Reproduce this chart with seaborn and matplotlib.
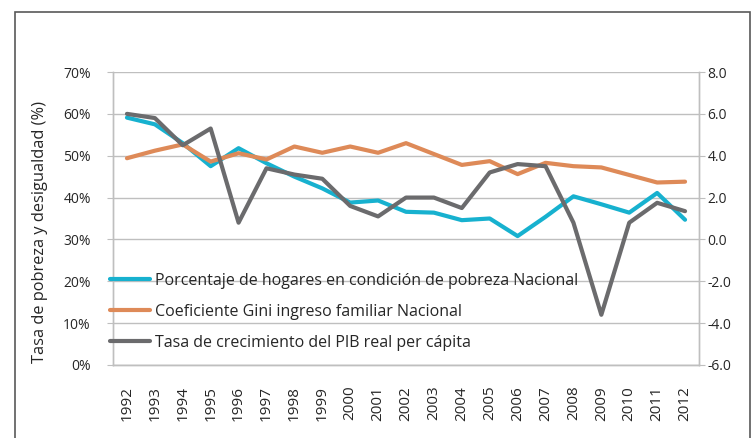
import matplotlib
matplotlib.use("Agg")
import matplotlib.pyplot as plt
import seaborn as sns
import pandas as pd
from matplotlib.patches import Rectangle
from matplotlib.ticker import FuncFormatter, MultipleLocator, FixedLocator

#Data
years = list(range(1992, 2013))
pobreza = [59.1, 57.5, 53.0, 47.5, 51.8, 48.2, 45.0, 42.2, 38.8, 39.3, 36.6,
           36.4, 34.6, 35.0, 30.8, 35.4, 40.3, 38.4, 36.4, 41.1, 34.7]
gini = [49.4, 51.2, 52.7, 48.6, 50.6, 49.1, 52.2, 50.7, 52.2, 50.7, 53.0,
        50.4, 47.8, 48.7, 45.6, 48.3, 47.5, 47.2, 45.4, 43.6, 43.8]
pib = [6.0, 5.8, 4.5, 5.3, 0.8, 3.4, 3.1, 2.9, 1.6, 1.1, 2.0,
       2.0, 1.5, 3.2, 3.6, 3.5, 0.8, -3.6, 0.8, 1.75, 1.35]

labels = [
    "Porcentaje de hogares en condición de pobreza Nacional",
    "Coeficiente Gini ingreso familiar Nacional",
    "Tasa de crecimiento del PIB real per cápita",
]
colors = ["#17B1CF", "#DE8A58", "#6B6B6D"]

sns.set_style("white")
plt.rcParams["font.family"] = ["Open Sans", "DejaVu Sans"]
text_color = "#262626"
grid_color = "#BFBFBF"

df = pd.DataFrame({"pos": range(len(years)), "pobreza": pobreza, "gini": gini, "pib": pib})

fig = plt.figure(figsize=(7.55, 4.38), dpi=100)
ax = fig.add_axes([113 / 755, 1 - 365 / 438, (699 - 113) / 755, (365 - 72) / 438])
ax2 = ax.twinx()

sns.lineplot(data=df, x="pos", y="pobreza", ax=ax, color=colors[0], lw=3, label=labels[0], legend=False)
sns.lineplot(data=df, x="pos", y="gini", ax=ax, color=colors[1], lw=3, label=labels[1], legend=False)
sns.lineplot(data=df, x="pos", y="pib", ax=ax2, color=colors[2], lw=3, label=labels[2], legend=False)

#Left axis (percent)
ax.set_ylim(0, 70)
ax.yaxis.set_major_locator(MultipleLocator(10))
ax.yaxis.set_major_formatter(FuncFormatter(lambda v, p: f"{v:.0f}%"))
ax.set_ylabel("Tasa de pobreza y desigualdad (%)", fontsize=11.8, color=text_color)
ax.yaxis.set_label_coords((48 - 113) / (699 - 113), (365 - 232) / 293)
ax.grid(axis="y", color=grid_color, lw=1)
ax.set_axisbelow(True)

#Right axis
ax2.set_ylim(-6, 8)
ax2.yaxis.set_major_locator(MultipleLocator(2))
ax2.yaxis.set_major_formatter(FuncFormatter(lambda v, p: f"{v:.1f}"))
ax2.set_ylabel("")

#Category x axis: labels at centers, ticks at boundaries
ax.set_xlim(-0.5, len(years) - 0.5)
ax.set_xticks(range(len(years)))
ax.set_xticklabels([str(y) for y in years], rotation=90)
ax.xaxis.set_minor_locator(FixedLocator([i - 0.5 for i in range(len(years) + 1)]))
ax.tick_params(axis="x", which="major", length=0, pad=15, labelsize=11, labelcolor=text_color)
ax.tick_params(axis="x", which="minor", length=6, color=grid_color, width=1)
ax.set_xlabel("")

ax.tick_params(axis="y", length=4, color=grid_color, labelsize=10, labelcolor=text_color, pad=12, left=True)
ax2.tick_params(axis="y", length=4, color=grid_color, labelsize=10, labelcolor=text_color, pad=2, right=True)

for a in (ax, ax2):
    for side in ("left", "right", "bottom"):
        a.spines[side].set_color(grid_color)
        a.spines[side].set_linewidth(1)
    a.spines["top"].set_visible(False)

#Legend inside the plot, without frame
handles = ax.get_lines()[:2] + ax2.get_lines()[:1]
leg = ax2.legend(handles, labels, loc="upper left", bbox_to_anchor=(110 / 755, 1 - 273 / 438),
                 bbox_transform=fig.transFigure, frameon=False, fontsize=11.5,
                 handlelength=2.5, handletextpad=0.3, labelspacing=0.94,
                 borderpad=0, borderaxespad=0)
for t in leg.get_texts():
    t.set_color(text_color)

#Outer border of the chart
fig.patches.append(Rectangle((15 / 755, -0.1), (750 - 15) / 755, 1 - 12 / 438 + 0.1,
                             transform=fig.transFigure, fill=False, edgecolor="#595959", lw=1.2))

fig.savefig("out.png", dpi=100)
plt.close(fig)
